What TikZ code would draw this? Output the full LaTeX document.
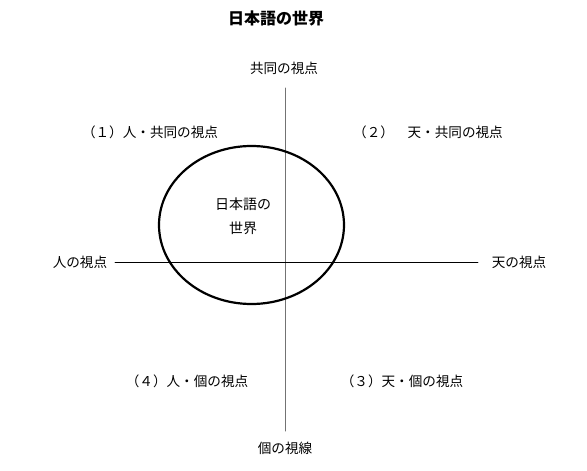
\documentclass[tikz,border=0pt]{standalone}
\usepackage{fontspec}
\setmainfont{Noto Sans CJK JP}
\begin{document}
\begin{tikzpicture}[x=1pt, y=-1pt, line join=round, line cap=round,
	nhan/.style={font=\fontsize{13.6}{15}\selectfont, inner sep=0pt}]
	\useasboundingbox (0,0) rectangle (587,471);
	\def\tamx{251.5} % tâm ellipse
	\def\tamy{225}
	\def\rx{92.5} % bán trục ngang
	\def\ry{79} % bán trục dọc
	\node[inner sep=0pt, font=\fontsize{16}{18}\selectfont\bfseries] (tieude) at (276,18) {日本語の世界};
	\coordinate (T) at (285,88);
	\coordinate (D) at (285,431);
	\coordinate (L) at (115,262);
	\coordinate (R) at (478,262);
	\node[nhan] (tren) at (284,68) {共同の視点};
	\node[nhan] (duoi) at (285,448) {個の視線};
	\node[nhan] (trai) at (80,262) {人の視点};
	\node[nhan] (phai) at (519,262) {天の視点};
	\node[nhan] (q1) at (150,132) {（１）人・共同の視点};
	\node[nhan] (q2) at (428,132) {（２）　天・共同の視点};
	\node[nhan] (q3) at (402,381) {（３）天・個の視点};
	\node[nhan] (q4) at (187,381) {（４）人・個の視点};
	\draw[gray!90!black, line width=1pt] (T)--(D);
	\draw[line width=0.8pt] (L)--(R);
	\draw[line width=2.2pt] (\tamx,\tamy) ellipse ({\rx} and {\ry});
	\node[font=\fontsize{14}{24}\selectfont, align=center, inner sep=0pt] (the) at (243,216) {日本語の\\世界};
\end{tikzpicture}
\end{document}
